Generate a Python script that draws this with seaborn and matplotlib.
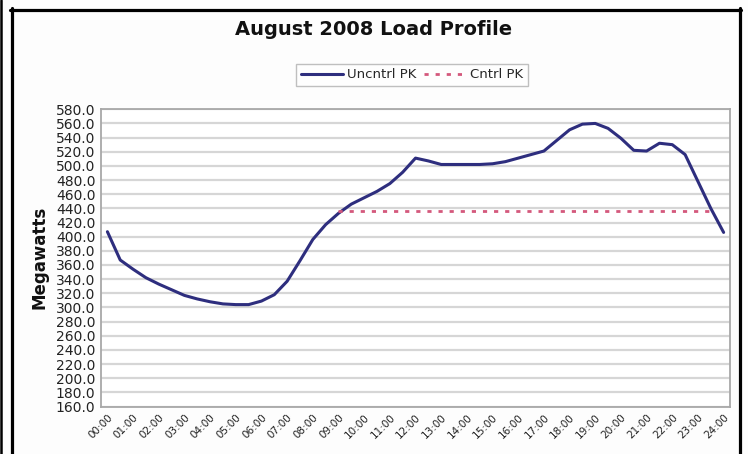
import matplotlib
matplotlib.use('Agg')
import matplotlib.pyplot as plt
import seaborn as sns
import pandas as pd
import numpy as np

# Données : profil de charge août 2008, pas de 30 min (00:00 -> 24:00)
hour_labels = ['00:00', '01:00', '02:00', '03:00', '04:00', '05:00', '06:00', '07:00',
               '08:00', '09:00', '10:00', '11:00', '12:00', '13:00', '14:00', '15:00',
               '16:00', '17:00', '18:00', '19:00', '20:00', '21:00', '22:00', '23:00', '24:00']
half_hours = np.arange(0, 24.5, 0.5)

uncntrl_pk = [407, 367, 354, 342, 333, 325, 317, 312, 308, 305, 304, 304, 309, 318,
              337, 366, 396, 417, 433, 446, 455, 464, 475, 491, 511, 507, 502, 502,
              502, 502, 503, 506, 511, 516, 521, 536, 551, 559, 560, 553, 539, 522,
              521, 532, 530, 516, 478, 440, 406]
cntrl_pk = [np.nan] * 18 + [436] * 30 + [np.nan]

df = pd.DataFrame({'hour': half_hours, 'Uncntrl PK': uncntrl_pk, 'Cntrl PK': cntrl_pk})

sns.set_style('white')
plt.rcParams['font.family'] = ['DejaVu Sans']

fig = plt.figure(figsize=(7.48, 4.54), dpi=100, facecolor='#fdfdfd')
ax = fig.add_axes([0.135, 0.1046, 0.841, 0.6547])
ax.set_facecolor('white')

sns.lineplot(data=df, x='hour', y='Uncntrl PK', ax=ax, color='#2e2e7e', linewidth=2.2,
             label='Uncntrl PK', legend=False)
sns.lineplot(data=df, x='hour', y='Cntrl PK', ax=ax, color='#d4587c', linewidth=2.0,
             linestyle=(0, (1.5, 2.5)), label='Cntrl PK', legend=False)

ax.set_xlim(-0.25, 24.25)
ax.set_ylim(160, 580)
ax.set_yticks(np.arange(160, 581, 20))
ax.set_yticklabels([f'{v:.1f}' for v in np.arange(160, 581, 20)], fontsize=10, color='#222222')
ax.set_xticks(range(25))
ax.set_xticklabels(hour_labels, rotation=45, ha='right', va='top', rotation_mode='anchor',
                   fontsize=7.5, color='#222222')
ax.set_xticks(np.arange(-0.25, 24.3, 0.5), minor=True)
ax.tick_params(axis='x', which='major', length=0, pad=4)
ax.tick_params(axis='x', which='minor', length=3, color='#a0a0a0', direction='out')
ax.tick_params(axis='y', length=3, color='#a0a0a0', direction='out', pad=1)
ax.set_xlabel('')
ax.set_ylabel('')

ax.grid(axis='y', color='#d6d6d6', linewidth=1.6)
ax.grid(axis='x', visible=False)
for s in ax.spines.values():
    s.set_visible(True)
    s.set_color('#a8a8a8')
    s.set_linewidth(1.3)

fig.text(0.5, 0.934, 'August 2008 Load Profile', ha='center', va='center',
         fontsize=14, fontweight='bold', color='#111111')
fig.text(0.053, 0.432, 'Megawatts', ha='center', va='center', rotation=90,
         fontsize=12, fontweight='bold', color='#111111')

leg = fig.legend(loc='center', bbox_to_anchor=(0.551, 0.835), ncol=2, fontsize=9.5,
                 frameon=True, fancybox=False, edgecolor='#b0b0b0', handlelength=3.2,
                 columnspacing=0.6, handletextpad=0.3, borderpad=0.35)
leg.get_frame().set_linewidth(1.0)

# cadre noir autour du graphique
fig.add_artist(plt.Line2D([1 / 748, 1 / 748], [0, 1], transform=fig.transFigure, color='black', linewidth=1.8))
fig.add_artist(plt.Line2D([11.5 / 748, 11.5 / 748], [0, 1 - 8 / 454], transform=fig.transFigure, color='black', linewidth=2.3))
fig.add_artist(plt.Line2D([10 / 748, 741 / 748], [1 - 9.5 / 454, 1 - 9.5 / 454], transform=fig.transFigure, color='black', linewidth=2.3))
fig.add_artist(plt.Line2D([739.5 / 748, 739.5 / 748], [0, 1 - 8 / 454], transform=fig.transFigure, color='black', linewidth=2.3))

fig.savefig('out.png', dpi=100, facecolor=fig.get_facecolor())
